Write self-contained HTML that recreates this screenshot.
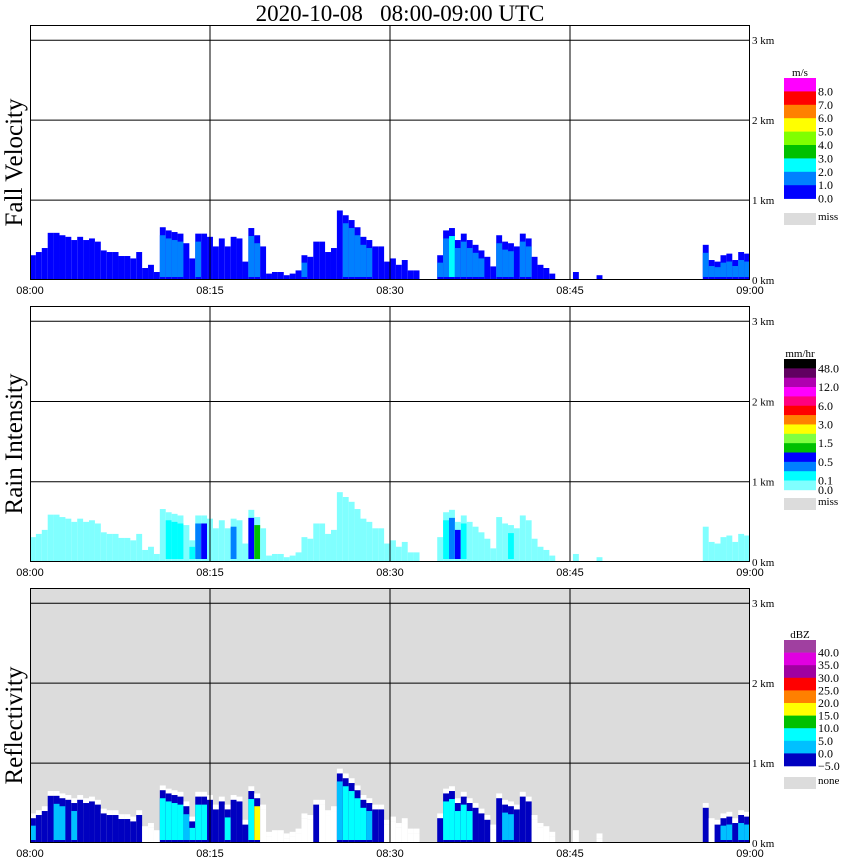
<!DOCTYPE html>
<html><head><meta charset="utf-8">
<style>
html,body{margin:0;padding:0;background:#fff;}
svg{display:block;}
.serif{font-family:"Liberation Serif",serif;}
.sans{font-family:"Liberation Sans",sans-serif;}
</style></head>
<body>
<svg id="chart" width="850" height="868" viewBox="0 0 850 868" xmlns="http://www.w3.org/2000/svg">
<text x="400" y="21" text-anchor="middle" class="serif" font-size="23" style="white-space:pre" xml:space="preserve">2020-10-08   08:00-09:00 UTC</text>
<g id="panels"></g>
</svg>
<script>
// time in minutes (half-minute bins starting at 08:00)
const tickLabels = ["08:00","08:15","08:30","08:45","09:00"];
const tickMinutes = [0,15,30,45,60];
const heightTicks = [0,1,2,3];
const heightLabels = ["0 km","1 km","2 km","3 km"];
// echo top height (km) for each half-minute bin, 120 bins
const echoTops = [
0.31,0.35,0.40,0.59,0.59,0.56,0.54,0.50,0.54,0.50,
0.52,0.48,0.37,0.35,0.35,0.30,0.30,0.27,0.35,0.15,
0.19,0.10,0.66,0.62,0.60,0.58,0.46,0.27,0.58,0.58,
0.54,0.42,0.52,0.42,0.54,0.52,0.23,0.65,0.56,0.42,
0.08,0.10,0.10,0.06,0.08,0.12,0.31,0.29,0.48,0.48,
0.35,0.40,0.87,0.81,0.75,0.66,0.54,0.50,0.42,0.42,
0.23,0.27,0.19,0.25,0.12,0.12,0,0,0,0.31,
0.62,0.65,0.50,0.58,0.50,0.44,0.37,0.29,0.17,0.56,
0.48,0.46,0.42,0.58,0.52,0.29,0.19,0.15,0.08,0,
0,0,0.10,0,0,0,0.06,0,0,0,
0,0,0,0,0,0,0,0,0,0,
0,0,0,0,0.44,0.25,0.23,0.31,0.33,0.25,0.35,0.33];
// mean fall velocity (m/s) per bin
const fallVelocity = [
0.5,0.5,0.5,0.5,0.5,0.5,0.5,0.5,0.5,0.5,
0.5,0.5,0.5,0.5,0.5,0.5,0.5,0.5,0.5,0.5,
0.5,0.5,1.5,1.5,1.5,1.5,0.5,0.5,1.5,0.5,
0.5,0.5,0.5,0.5,0.5,0.5,0.5,1.5,1.5,0.5,
0.5,0.5,0.5,0.5,0.5,0.5,1.5,0.5,0.5,0.5,
0.5,0.5,0.5,1.5,1.5,1.5,1.5,1.5,0.5,0.5,
0.5,0.5,0.5,0.5,0.5,0.5,0,0,0,1.5,
1.5,2.5,1.5,1.5,1.5,1.5,1.5,0.5,0.5,1.5,
1.5,1.5,0.5,1.5,1.5,0.5,0.5,0.5,0.5,0,
0,0,1.5,0,0,0,0.5,0,0,0,
0,0,0,0,0,0,0,0,0,0,
0,0,0,0,1.5,1.5,1.5,1.5,1.5,1.5,1.5,1.5];
// rain intensity (mm/hr) per bin
const rainRate = [
0.05,0.05,0.05,0.05,0.05,0.05,0.05,0.05,0.05,0.05,
0.05,0.05,0.05,0.05,0.05,0.05,0.05,0.05,0.05,0.05,
0.05,0.05,0.05,0.2,0.2,0.2,0.05,0.2,0.3,0.8,
0.05,0.05,0.05,0.05,0.4,0.05,0.05,0.6,1.2,0.05,
0.05,0.05,0.05,0.05,0.05,0.05,0.05,0.05,0.05,0.05,
0.05,0.05,0.05,0.05,0.05,0.05,0.05,0.05,0.05,0.05,
0.05,0.05,0.05,0.05,0.05,0.05,0,0,0,0.05,
0.2,0.3,0.8,0.2,0.05,0.05,0.05,0.05,0.05,0.05,
0.05,0.2,0.05,0.05,0.05,0.05,0.05,0.05,0.05,0,
0,0,0.05,0,0,0,0,0,0,0,
0,0,0,0,0,0,0,0,0,0,
0,0,0,0,0.05,0.05,0.05,0.05,0.05,0.05,0.05,0.05];
// reflectivity (dBZ) per bin
const reflectivity = [
2,-2,-2,-2,3,3,-2,4,-2,-2,
-2,-2,-2,-2,-2,-2,-2,-2,-2,-6,
-6,-6,6,6,6,6,3,6,7,6,
-2,-2,-2,6,-2,-2,-2,6,16,-6,
-6,-6,-6,-6,-6,-6,-6,-6,-2,-6,
-6,-6,3,6,6,6,6,4,-2,-2,
-6,-6,-6,-6,-6,-6,-9,-9,-9,-2,
6,8,6,6,6,-2,-2,-2,-6,-2,
4,4,-2,-2,-2,-6,-6,-6,-6,-9,
-9,-9,-6,-9,-9,-9,-6,-9,-9,-9,
-9,-9,-9,-9,-9,-9,-9,-9,-9,-9,
-9,-9,-9,-9,-2,-6,-2,2,2,-2,3,4];

const NS='http://www.w3.org/2000/svg';
const X0=30, X1=750;
function xScale(min){return X0+(X1-X0)*min/60;}
const panelDefs=[
 {name:'fall-velocity',title:'Fall Velocity',top:25,base:280,bg:'#ffffff'},
 {name:'rain-intensity',title:'Rain Intensity',top:306,base:562,bg:'#ffffff'},
 {name:'reflectivity',title:'Reflectivity',top:588,base:843,bg:'#dcdcdc'}
];
function velColor(v){const c=['#0000ff','#0080ff','#00ffff','#00c000','#80ff00','#ffff00','#ff8000','#ff0000','#ff00ff'];return c[Math.max(0,Math.min(8,Math.floor(v)))];}
function rainColor(r){
 const th=[0.1,0.3,0.5,1.0,1.5,2,3,4,6,8,12,24,48];
 const c=['#80ffff','#00ffff','#0080ff','#0000ff','#00c000','#80ff40','#ffff00','#ff8000','#ff0000','#ff0080','#ff00ff','#b000b0','#600060','#000000'];
 let i=0;while(i<th.length&&r>=th[i])i++;return c[i];}
function dbzColor(d){
 const th=[0,5,10,15,20,25,30,35,40];
 const c=['#0000c0','#00c0ff','#00ffff','#00c000','#ffff00','#ff8000','#ff0000','#a000a0','#e000e0','#a040a0'];
 let i=0;while(i<th.length&&d>=th[i])i++;return c[i];}
function el(tag,attrs,parent){const e=document.createElementNS(NS,tag);for(const k in attrs)e.setAttribute(k,attrs[k]);parent.appendChild(e);return e;}
const root=document.getElementById('panels');
panelDefs.forEach((p,pi)=>{
 const g=el('g',{},root);
 
 
 const kmPx=(p.base-p.top)/3.19;
 const yScale=h=>p.base-h*kmPx;
 const bg=el('rect',{x:X0,y:p.top,width:X1-X0,height:p.base-p.top,fill:p.bg},g);
 
 
 const bw=(X1-X0)/echoTops.length;
 const marks=el('g',{},g);
 
 
 echoTops.forEach((h,i)=>{
  if(h<=0)return;
  const x=X0+i*bw;
  let fill, edge, fringe=null;
  if(pi===0){fill=velColor(fallVelocity[i]);edge='#0000ff';}
  else if(pi===1){fill=rainColor(rainRate[i]);edge='#80ffff';}
  else{const d=reflectivity[i]; if(d<-5){fill='#ffffff';edge='#ffffff';}else{fill=dbzColor(d);edge='#0000c0';} fringe='#ffffff';}
  if(fringe){const f=el('rect',{x:x,y:yScale(h+0.06),width:bw,height:yScale(h)-yScale(h+0.06),fill:fringe},marks);
   
   }
  const r=el('rect',{x:x,y:yScale(h),width:bw,height:p.base-yScale(h),fill:edge},marks);
  
  
  const inset=Math.min(0.1,h*0.3);
  if(h>0.12&&fill!==edge){
   const r2=el('rect',{x:x,y:yScale(h-inset),width:bw,height:p.base-3-yScale(h-inset),fill:fill},marks);
   
   
  }
 });
 heightTicks.forEach((hk,k)=>{
  const y=yScale(hk);
  if(hk>0){const l=el('line',{x1:X0,x2:X1,y1:y,y2:y,stroke:'#000','stroke-width':1},g);
   
   }
  const t=el('text',{x:752,y:y+4,'font-size':11,class:'serif'},g);
  t.textContent=heightLabels[k];
  
  
 });
 tickMinutes.forEach((m,k)=>{
  const x=xScale(m);
  if(k>0&&k<tickMinutes.length-1){const l=el('line',{x1:x,x2:x,y1:p.top,y2:p.base,stroke:'#000','stroke-width':1},g);
   
   }
  const t=el('text',{x:x,y:p.base+14,'font-size':11,'text-anchor':'middle',class:'sans'},g);
  t.textContent=tickLabels[k];
  
  
 });
 const fr=el('rect',{x:X0+0.5,y:p.top+0.5,width:X1-X0-1,height:p.base-p.top-1,fill:'none',stroke:'#000','stroke-width':1},g);
 
 
 const yt=el('text',{x:0,y:0,'font-size':25,'text-anchor':'middle',class:'serif',transform:`translate(22,${(p.top+p.base)/2+10}) rotate(-90)`},g);
 yt.textContent=p.title;
 
 
});
const legends=[
 {name:'fall-velocity-legend',unit:'m/s',top:78,h:13.4,colors:['#ff00ff','#ff0000','#ff8000','#ffff00','#80ff00','#00c000','#00ffff','#0080ff','#0000ff'],labels:['8.0','7.0','6.0','5.0','4.0','3.0','2.0','1.0','0.0'],miss:'miss',missY:213},
 {name:'rain-intensity-legend',unit:'mm/hr',top:359,h:9.35,colors:['#000000','#600060','#b000b0','#ff00ff','#ff0080','#ff0000','#ff8000','#ffff00','#80ff40','#00c000','#0000ff','#0080ff','#00ffff','#80ffff'],labels:['48.0','','12.0','','6.0','','3.0','','1.5','','0.5','','0.1','0.0'],miss:'miss',missY:498},
 {name:'reflectivity-legend',unit:'dBZ',top:640,h:12.6,colors:['#a040a0','#e000e0','#a000a0','#ff0000','#ff8000','#ffff00','#00c000','#00ffff','#00c0ff','#0000c0'],labels:['40.0','35.0','30.0','25.0','20.0','15.0','10.0','5.0','0.0','\u22125.0'],miss:'none',missY:777}
];
legends.forEach(L=>{
 const g=el('g',{},root);
 
 
 const u=el('text',{x:800,y:L.top-2,'font-size':11,'text-anchor':'middle',class:'serif'},g);
 u.textContent=L.unit;
 
 
 L.colors.forEach((c,i)=>{
  const r=el('rect',{x:784,y:L.top+i*L.h,width:32,height:L.h+0.3,fill:c},g);
  
  
  if(L.labels[i]){const t=el('text',{x:818,y:L.top+(i+1)*L.h+4,'font-size':12,class:'serif'},g);
   t.textContent=L.labels[i];
   
   }
 });
 const m=el('rect',{x:784,y:L.missY,width:32,height:12,fill:'#dcdcdc'},g);
 
 
 const mt=el('text',{x:818,y:L.missY+7,'font-size':11,class:'serif'},g);
 mt.textContent=L.miss;
 
 
});
</script>
</body></html>
